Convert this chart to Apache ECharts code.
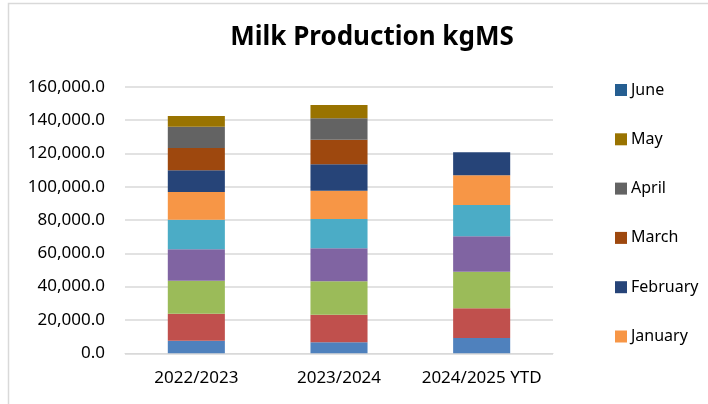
<!DOCTYPE html>
<html>
<head>
<meta charset="utf-8">
<script src="https://cdn.jsdelivr.net/npm/echarts@6/dist/echarts.min.js"></script>
<style>
  html, body { margin: 0; padding: 0; background: #ffffff; }
  #chart { width: 708px; height: 404px; }
</style>
</head>
<body>
<div id="chart"></div>
<script>
// Seasons on the x axis
const seasons = ['2022/2023', '2023/2024', '2024/2025 YTD'];

// Monthly milk solids (kgMS), stacked from the start of the season upwards
const august    = [7560, 6600, 9180];
const september = [16200, 16560, 17820];
const october   = [19800, 20040, 21960];
const november  = [18840, 19800, 21240];
const december  = [17760, 17580, 18800];
const january   = [16640, 16980, 17800];
const february  = [13000, 15840, 13800];
const march     = [13400, 14760, null];
const april     = [12760, 12840, null];
const may       = [6420, 8000, null];
const june      = [0, 0, null];

// Legend entries shown (latest month first)
const legendItems = ['June', 'May', 'April', 'March', 'February', 'January'];

// Y axis tick settings
const yMin = 0, yMax = 160000, yStep = 20000;

const monthSeries = [
  { name: 'August',    data: august,    color: '#4F81BD' },
  { name: 'September', data: september, color: '#C0504D' },
  { name: 'October',   data: october,   color: '#9BBB59' },
  { name: 'November',  data: november,  color: '#8064A2' },
  { name: 'December',  data: december,  color: '#4BACC6' },
  { name: 'January',   data: january,   color: '#F79646' },
  { name: 'February',  data: february,  color: '#264478' },
  { name: 'March',     data: march,     color: '#9E480E' },
  { name: 'April',     data: april,     color: '#636363' },
  { name: 'May',       data: may,       color: '#997300' },
  { name: 'June',      data: june,      color: '#255E91' }
];

const font = '"Noto Sans", "Open Sans", sans-serif';

const chart = echarts.init(document.getElementById('chart'), null, { renderer: 'canvas' });

chart.setOption({
  backgroundColor: '#ffffff',
  animation: false,
  title: {
    text: 'Milk Production kgMS',
    left: 367,
    top: 20,
    textAlign: 'center',
    textStyle: { fontFamily: font, fontSize: 26, fontWeight: 'bold', color: '#000000' }
  },
  graphic: [{
    type: 'rect',
    shape: { x: 8.5, y: 3.5, width: 800, height: 500 },
    style: { fill: 'none', stroke: '#d9d9d9', lineWidth: 1.5 },
    silent: true
  }],
  legend: {
    orient: 'vertical',
    left: 610,
    top: 75,
    data: legendItems,
    icon: 'rect',
    itemWidth: 12,
    itemHeight: 12,
    itemGap: 29.3,
    selectedMode: false,
    textStyle: { fontFamily: font, fontSize: 16, color: '#000000', lineHeight: 20, padding: [0, 0, 0, -1] }
  },
  grid: { left: 125, right: 155, top: 86.7, bottom: 50.7, containLabel: false },
  xAxis: {
    type: 'category',
    data: seasons,
    axisTick: { show: false },
    axisLine: { show: true, lineStyle: { color: '#d9d9d9', width: 1 } },
    axisLabel: { fontFamily: font, fontSize: 17, color: '#000000', margin: 16, interval: 0 }
  },
  yAxis: {
    type: 'value',
    min: yMin,
    max: yMax,
    interval: yStep,
    axisLine: { show: false },
    axisTick: { show: false },
    splitLine: { lineStyle: { color: '#d9d9d9', width: 1.5 } },
    axisLabel: {
      fontFamily: font, fontSize: 17, color: '#000000', margin: 20,
      formatter: v => v.toLocaleString('en-US', { minimumFractionDigits: 1, maximumFractionDigits: 1 })
    }
  },
  series: monthSeries.map(s => ({
    name: s.name,
    type: 'bar',
    stack: 'season',
    barWidth: '40%',
    data: s.data,
    itemStyle: { color: s.color },
    emphasis: { disabled: true }
  }))
});
</script>
</body>
</html>
